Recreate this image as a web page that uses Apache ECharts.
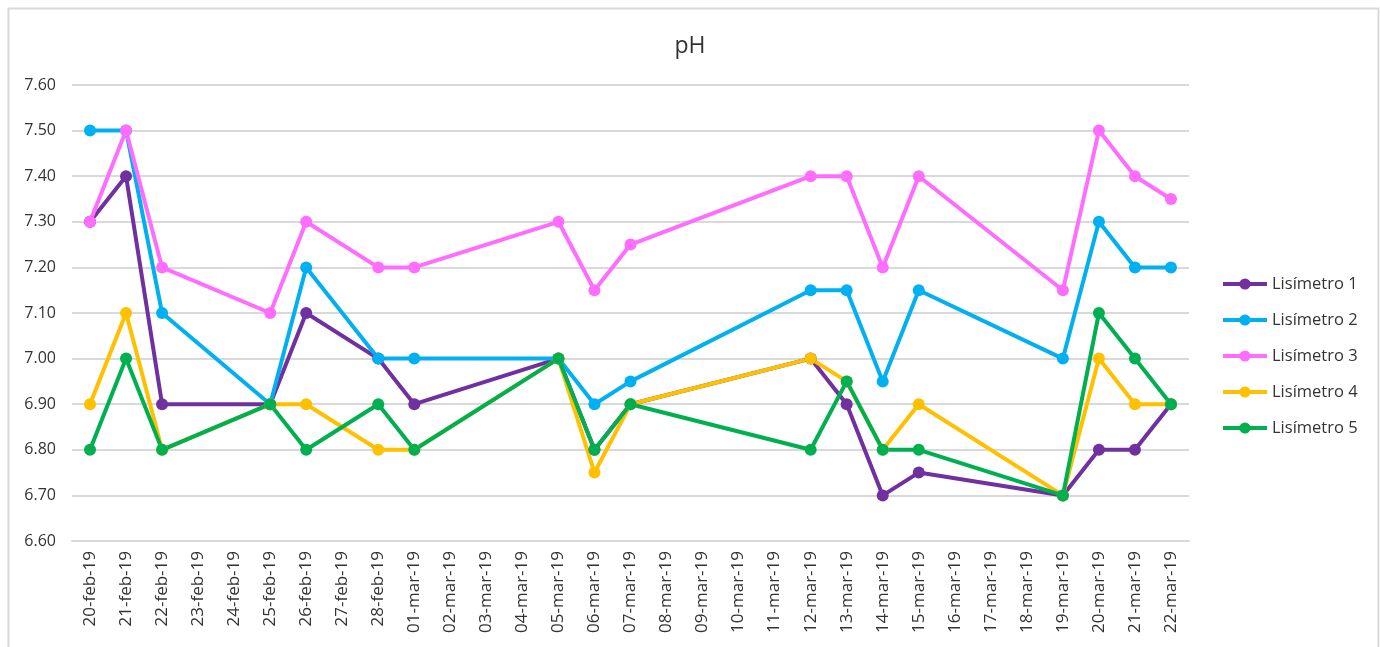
<!DOCTYPE html>
<html>
<head>
<meta charset="utf-8">
<script src="https://cdn.jsdelivr.net/npm/echarts@6/dist/echarts.min.js"></script>
<style>
html,body{margin:0;padding:0;background:#fff;}
#chart{width:1380px;height:647px;}
</style>
</head>
<body>
<div id="chart"></div>
<script>
const categories = ['20-feb-19','21-feb-19','22-feb-19','23-feb-19','24-feb-19','25-feb-19','26-feb-19','27-feb-19','28-feb-19',
  '01-mar-19','02-mar-19','03-mar-19','04-mar-19','05-mar-19','06-mar-19','07-mar-19','08-mar-19','09-mar-19','10-mar-19',
  '11-mar-19','12-mar-19','13-mar-19','14-mar-19','15-mar-19','16-mar-19','17-mar-19','18-mar-19','19-mar-19','20-mar-19',
  '21-mar-19','22-mar-19'];
const sampleDates = ['20-feb-19','21-feb-19','22-feb-19','25-feb-19','26-feb-19','28-feb-19','01-mar-19','05-mar-19','06-mar-19',
  '07-mar-19','12-mar-19','13-mar-19','14-mar-19','15-mar-19','19-mar-19','20-mar-19','21-mar-19','22-mar-19'];
const seriesNames = ['Lisímetro 1','Lisímetro 2','Lisímetro 3','Lisímetro 4','Lisímetro 5'];
const lis1 = [7.30,7.40,6.90,6.90,7.10,7.00,6.90,7.00,6.80,6.90,7.00,6.90,6.70,6.75,6.70,6.80,6.80,6.90];
const lis2 = [7.50,7.50,7.10,6.90,7.20,7.00,7.00,7.00,6.90,6.95,7.15,7.15,6.95,7.15,7.00,7.30,7.20,7.20];
const lis3 = [7.30,7.50,7.20,7.10,7.30,7.20,7.20,7.30,7.15,7.25,7.40,7.40,7.20,7.40,7.15,7.50,7.40,7.35];
const lis4 = [6.90,7.10,6.80,6.90,6.90,6.80,6.80,7.00,6.75,6.90,7.00,6.95,6.80,6.90,6.70,7.00,6.90,6.90];
const lis5 = [6.80,7.00,6.80,6.90,6.80,6.90,6.80,7.00,6.80,6.90,6.80,6.95,6.80,6.80,6.70,7.10,7.00,6.90];
const colors = ['#7030A0','#00B0F0','#FF6DFF','#FFC000','#00B050'];

function toSeriesData(vals){
  return categories.map(c => {
    const i = sampleDates.indexOf(c);
    return i >= 0 ? vals[i] : null;
  });
}
const allVals = [lis1, lis2, lis3, lis4, lis5];
const FONT = '"Open Sans", "Liberation Sans", sans-serif';

const chart = echarts.init(document.getElementById('chart'));
chart.setOption({
  animation: false,
  color: colors,
  graphic: [{
    type: 'rect', left: 6, top: 6, silent: true,
    shape: {width: 1370, height: 660},
    style: {fill: 'none', stroke: '#d9d9d9', lineWidth: 2}
  }],
  title: {
    text: 'pH', left: 'center', top: 30,
    textStyle: {fontFamily: FONT, fontSize: 23, fontWeight: 'normal', color: '#333'}
  },
  legend: {
    orient: 'vertical', left: 1221, top: 275, padding: 0,
    itemWidth: 44, itemHeight: 14, itemGap: 18,
    lineStyle: {width: 4},
    textStyle: {fontFamily: FONT, fontSize: 16.5, color: '#333', lineHeight: 18},
    data: seriesNames
  },
  grid: {left: 72, right: 191, top: 85, bottom: 106, containLabel: false},
  xAxis: {
    type: 'category', data: categories, boundaryGap: true,
    axisLine: {show: true, lineStyle: {color: '#d9d9d9', width: 2}},
    axisTick: {show: false},
    axisLabel: {rotate: 90, interval: 0, margin: 10, fontFamily: FONT, fontSize: 17, color: '#333'}
  },
  yAxis: {
    type: 'value', min: 6.6, max: 7.6, interval: 0.1,
    axisLine: {show: false}, axisTick: {show: false},
    axisLabel: {formatter: v => v.toFixed(2), margin: 16, fontFamily: FONT, fontSize: 16, color: '#333'},
    splitLine: {lineStyle: {color: '#d9d9d9', width: 2}}
  },
  series: seriesNames.map((n, i) => ({
    name: n, type: 'line', data: toSeriesData(allVals[i]), connectNulls: true,
    symbol: 'circle', symbolSize: 12,
    lineStyle: {width: 4, color: colors[i]},
    itemStyle: {color: colors[i]}
  }))
});
</script>
</body>
</html>
